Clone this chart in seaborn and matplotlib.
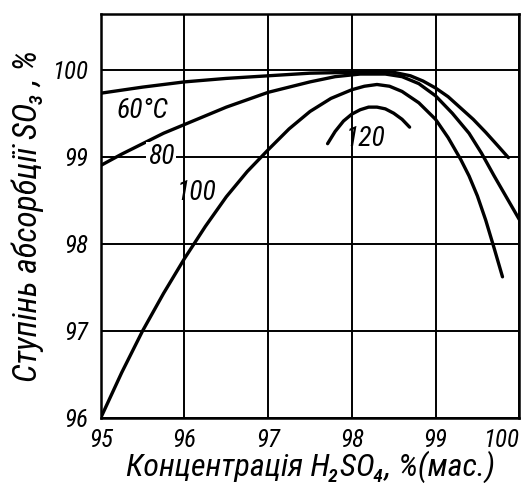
import numpy as np
import pandas as pd
import seaborn as sns
import matplotlib
matplotlib.use("Agg")
import matplotlib.pyplot as plt
from matplotlib import font_manager

# curves: H2SO4 concentration (%) -> SO3 absorption (%)
x_60 = [95.0, 95.5, 96.0, 96.5, 97.0, 97.5, 98.0, 98.3, 98.5, 98.7, 98.85, 99.0,
        99.15, 99.3, 99.45, 99.6, 99.75, 99.87]
y_60 = [99.73, 99.80, 99.86, 99.90, 99.93, 99.96, 99.97, 99.98, 99.97, 99.93, 99.87, 99.79,
        99.69, 99.56, 99.43, 99.28, 99.12, 98.99]

x_80 = [95.0, 95.25, 95.5, 95.75, 96.0, 96.5, 97.0, 97.5, 97.8, 98.1, 98.4, 98.6,
        98.8, 99.0, 99.2, 99.4, 99.55, 99.7, 99.85, 100.0]
y_80 = [98.90, 99.03, 99.15, 99.27, 99.37, 99.57, 99.74, 99.86, 99.92, 99.95, 99.95, 99.92,
        99.84, 99.70, 99.50, 99.27, 99.04, 98.78, 98.53, 98.28]

x_100 = [95.0, 95.25, 95.5, 95.75, 96.0, 96.25, 96.5, 96.75, 97.0, 97.25, 97.5, 97.75,
         98.0, 98.15, 98.3, 98.45, 98.6, 98.8, 99.0, 99.15, 99.3, 99.4, 99.5, 99.6,
         99.7, 99.8]
y_100 = [96.0, 96.52, 97.0, 97.43, 97.83, 98.2, 98.54, 98.83, 99.08, 99.32, 99.52, 99.67,
         99.77, 99.81, 99.83, 99.81, 99.75, 99.62, 99.43, 99.22, 98.97, 98.78, 98.55, 98.27,
         97.95, 97.62]

x_120 = [97.71, 97.8, 97.9, 98.0, 98.1, 98.2, 98.3, 98.4, 98.5, 98.6, 98.69]
y_120 = [99.15, 99.29, 99.41, 99.49, 99.54, 99.57, 99.57, 99.55, 99.50, 99.43, 99.34]

curve_labels = ["60°C", "80", "100", "120"]
label_x = [95.5, 95.72, 96.15, 98.17]
label_y = [99.53, 99.0, 98.58, 99.2]

x_ticks = [95, 96, 97, 98, 99, 100]
y_ticks = [96, 97, 98, 99, 100]

frames = []
for name, xs, ys in zip(curve_labels, [x_60, x_80, x_100, x_120], [y_60, y_80, y_100, y_120]):
    frames.append(pd.DataFrame({"conc": xs, "absorb": ys, "temp": name}))
df = pd.concat(frames, ignore_index=True)

sns.set_style("white")
names = {f.name for f in font_manager.fontManager.ttflist}
main_font = "Liberation Sans"
for cand in ["Liberation Sans Narrow", "Roboto Condensed", "DejaVu Sans Condensed"]:
    if cand in names:
        main_font = cand
        break
plt.rcParams["font.family"] = [main_font, "DejaVu Sans"]
plt.rcParams["font.style"] = "italic"
for key in ["text.color", "axes.labelcolor", "xtick.color", "ytick.color"]:
    plt.rcParams[key] = "black"

fig = plt.figure(figsize=(5.25, 4.83), dpi=100)
ax = fig.add_axes([0.192, 0.135, 0.797, 0.836])

ax.grid(True, color="black", linewidth=1.4)
ax.set_axisbelow(True)

sns.lineplot(data=df, x="conc", y="absorb", units="temp", estimator=None,
             sort=False, color="black", linewidth=2.4, ax=ax, legend=False)

for txt, lx, ly in zip(curve_labels, label_x, label_y):
    bbox = None
    if txt == "80":
        bbox = dict(facecolor="white", edgecolor="none", pad=1)
    ax.text(lx, ly, txt, fontsize=20, style="italic",
            ha="center", va="center", bbox=bbox, zorder=5)

ax.set_xlim(95, 100)
ax.set_ylim(96, 100.64)
ax.set_xticks(x_ticks)
ax.set_yticks(y_ticks)
ax.set_xticklabels([str(t) for t in x_ticks], fontsize=18, style="italic")
ax.set_yticklabels([str(t) for t in y_ticks], fontsize=18, style="italic")
ax.get_xticklabels()[-1].set_ha("right")
ax.tick_params(axis="both", length=0)
ax.tick_params(axis="x", pad=7)
ax.tick_params(axis="y", pad=9)

for s in ax.spines.values():
    s.set_color("black")
    s.set_linewidth(1.8)

ax.set_xlabel("Концентрація H₂SO₄, %(мас.)", fontsize=23, style="italic", labelpad=-1)
ax.set_ylabel("Ступінь абсорбції SO₃ , %", fontsize=24, style="italic", labelpad=6)

fig.savefig("out.png", dpi=100)
